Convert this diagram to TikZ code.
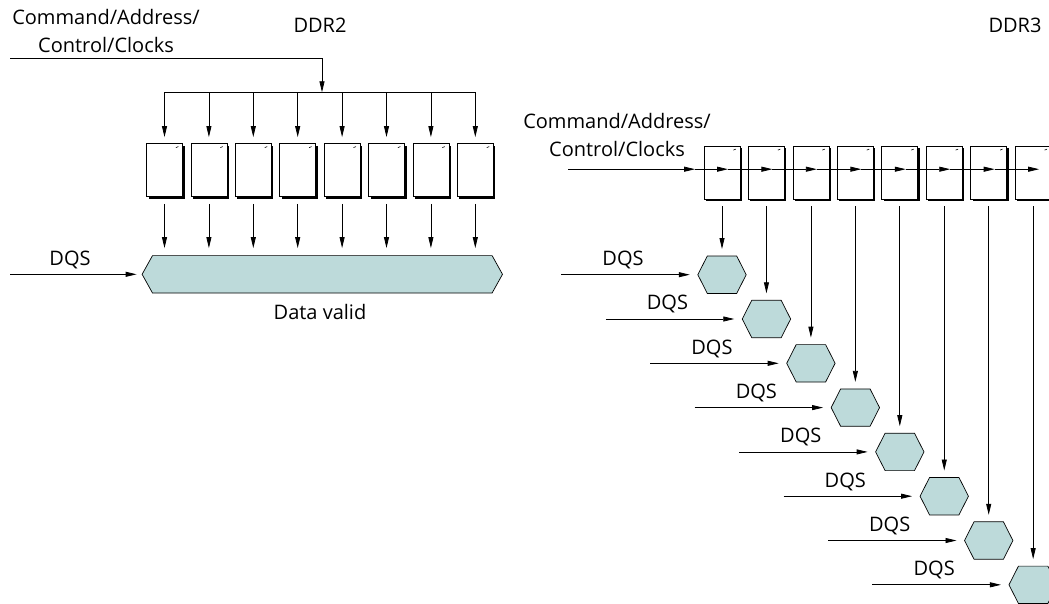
\documentclass[tikz,border=0pt]{standalone}
\usepackage{fontspec}
\setsansfont{Open Sans}
\usetikzlibrary{arrows.meta,shadows,positioning}
\definecolor{hexfill}{RGB}{189,218,218}

\tikzset{%
  % Specifications for style of nodes:
         chip/.style = {rectangle, draw=black, line width=0.8pt, fill=white, minimum width=36pt, minimum height=53pt, inner sep=0pt,
                        drop shadow={shadow xshift=2pt, shadow yshift=-2pt, fill=black, opacity=1}},
      hexcell/.style = {rectangle, minimum width=48pt, minimum height=37pt, inner sep=0pt},
      hexline/.style = {fill=hexfill, draw=black, line width=0.7pt},
          txt/.style = {font=\sffamily\fontsize{20}{28}\selectfont, inner sep=0pt, align=center},
          arr/.style = {-{Triangle[length=11pt,width=5pt]}, line width=0.8pt},
}

\begin{document}
\begin{tikzpicture}[x=1pt, y=-1pt]
    \clip (0,0) rectangle (1049,603);

    % Draw labels
    \node (ca2)   [txt] at (106,31)  {Command/Address/\\Control/Clocks};
    \node (ddr2)  [txt] at (320,25)  {DDR2};
    \node (ddr3)  [txt] at (1015,25) {DDR3};
    \node (ca3)   [txt] at (617,135) {Command/Address/\\Control/Clocks};

    % Draw nodes: DDR2
    \foreach \k in {1,...,8}
        \node (a\k) [chip] at ({164.5+44.4*(\k-1)},170) {};
    \node (dv)     [hexcell, minimum width=360pt] at (322.3,274.3) {};
    \filldraw[hexline] (dv.west) -- ([xshift=10.4pt]dv.north west) -- ([xshift=-10.4pt]dv.north east)
        -- (dv.east) -- ([xshift=-10.4pt]dv.south east) -- ([xshift=10.4pt]dv.south west) -- cycle;
    \node (dvtext) [txt] at (320,311.7) {Data valid};
    \node (q0)     [txt] at (70,260) {DQS};

    % Draw nodes: DDR3
    \foreach \k in {1,...,8} {
        \node (b\k) [chip]    at ({722+44.45*(\k-1)},172.5) {};
        \node (h\k) [hexcell] at ({722+44.45*(\k-1)},{274.7+44.3*(\k-1)}) {};
        \filldraw[hexline] (h\k.west) -- ([xshift=9.5pt]h\k.north west) -- ([xshift=-9.5pt]h\k.north east)
            -- (h\k.east) -- ([xshift=-9.5pt]h\k.south east) -- ([xshift=9.5pt]h\k.south west) -- cycle;
        \node (q\k) [txt] at ([shift={(-99,-14.7)}]h\k.center) {DQS};
    }

    % chip marks
    \foreach \k in {1,...,8} {
        \draw[line width=0.6pt] ([shift={(-7,4.5)}]a\k.north east) -- ++(2.5,-1);
        \draw[line width=0.6pt] ([shift={(-7,4.5)}]b\k.north east) -- ++(2.5,-1);
    }

    % Draw arrows: DDR2
    \coordinate (in2) at (10,58.7);
    \coordinate (bus) at (322,92.3);
    \draw[arr] (in2) -| (bus);
    \draw[line width=0.8pt] (a1 |- bus) -- (a8 |- bus);
    \foreach \k in {1,...,8} {
        \draw[arr, shorten >=6pt] (a\k |- bus) -- (a\k.north);
        \draw[arr, shorten <=7pt, shorten >=7.5pt] (a\k.south) -- (a\k.south |- dv.north);
    }
    \coordinate (s0) at (10,274.3);
    \draw[arr, shorten >=5.5pt] (s0) -- (dv.west);

    % Draw arrows: DDR3
    \coordinate (in3) at (568.2,169.2);
    \path (b1.west |- in3) ++(-8.5,0) coordinate (t0);
    \foreach \k in {1,...,8}
        \path (b\k.center |- in3) ++(6,0) coordinate (t\k);
    \draw[arr] (in3) -- (t0);
    \foreach \k [remember=\k as \j (initially 0)] in {1,...,8}
        \draw[arr] (t\j) -- (t\k);
    \foreach \k in {1,...,8} {
        \draw[arr, shorten <=7pt, shorten >=7pt] (b\k.south) -- (b\k.south |- h\k.north);
        \path (h\k.center) ++(-160.7,0) coordinate (s\k);
        \draw[arr, shorten >=8pt] (s\k) -- (h\k.west);
    }
\end{tikzpicture}
\end{document}
